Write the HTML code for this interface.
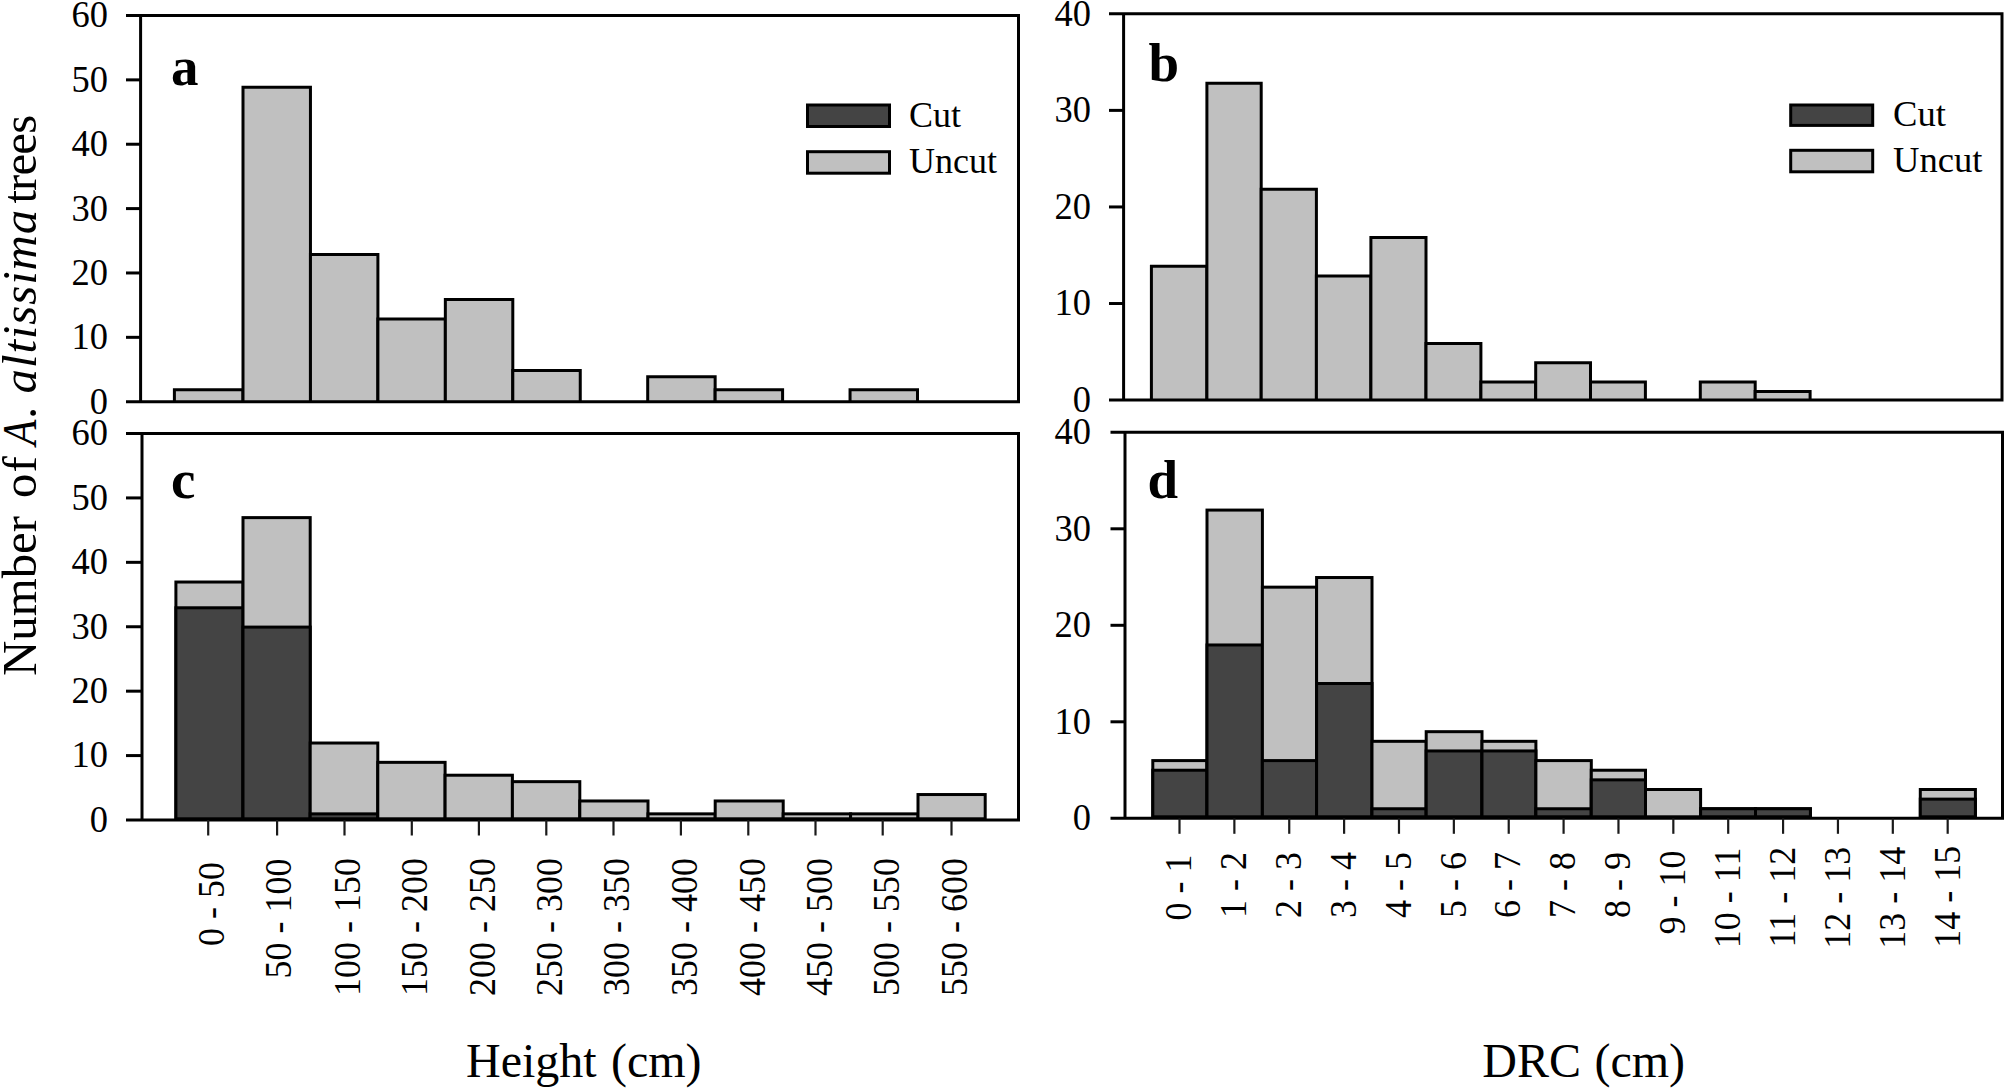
<!DOCTYPE html>
<html lang="en">
<head>
<meta charset="utf-8">
<title>Number of A. altissima trees by height and DRC class</title>
<style>
html,body{margin:0;padding:0;background:#fff;}
body{width:2006px;height:1092px;overflow:hidden;}
svg{display:block;}
svg text{font-family:"Liberation Serif",serif;fill:#000;}
</style>
</head>
<body>
<svg width="2006" height="1092" viewBox="0 0 2006 1092">
<rect x="0" y="0" width="2006" height="1092" fill="#ffffff"/>
<g id="panel-a">
<rect x="174.40" y="389.73" width="68.60" height="11.97" fill="#c0c0c0"/>
<path d="M174.40 401.70 V389.73 H243.00 V401.70" fill="none" stroke="#000" stroke-width="3" stroke-linejoin="miter"/>
<rect x="243.00" y="87.24" width="67.45" height="314.46" fill="#c0c0c0"/>
<path d="M243.00 401.70 V87.24 H310.45 V401.70" fill="none" stroke="#000" stroke-width="3" stroke-linejoin="miter"/>
<rect x="310.45" y="254.57" width="67.45" height="147.13" fill="#c0c0c0"/>
<path d="M310.45 401.70 V254.57 H377.90 V401.70" fill="none" stroke="#000" stroke-width="3" stroke-linejoin="miter"/>
<rect x="377.90" y="318.93" width="67.45" height="82.77" fill="#c0c0c0"/>
<path d="M377.90 401.70 V318.93 H445.35 V401.70" fill="none" stroke="#000" stroke-width="3" stroke-linejoin="miter"/>
<rect x="445.35" y="299.62" width="67.45" height="102.08" fill="#c0c0c0"/>
<path d="M445.35 401.70 V299.62 H512.80 V401.70" fill="none" stroke="#000" stroke-width="3" stroke-linejoin="miter"/>
<rect x="512.80" y="370.42" width="67.45" height="31.28" fill="#c0c0c0"/>
<path d="M512.80 401.70 V370.42 H580.25 V401.70" fill="none" stroke="#000" stroke-width="3" stroke-linejoin="miter"/>
<rect x="647.70" y="376.86" width="67.45" height="24.84" fill="#c0c0c0"/>
<path d="M647.70 401.70 V376.86 H715.15 V401.70" fill="none" stroke="#000" stroke-width="3" stroke-linejoin="miter"/>
<rect x="715.15" y="389.73" width="67.45" height="11.97" fill="#c0c0c0"/>
<path d="M715.15 401.70 V389.73 H782.60 V401.70" fill="none" stroke="#000" stroke-width="3" stroke-linejoin="miter"/>
<rect x="850.05" y="389.73" width="67.45" height="11.97" fill="#c0c0c0"/>
<path d="M850.05 401.70 V389.73 H917.50 V401.70" fill="none" stroke="#000" stroke-width="3" stroke-linejoin="miter"/>
<path d="M126.00 15.50 H1018.50 V401.70 H126.00" fill="none" stroke="#000" stroke-width="3" stroke-linejoin="miter"/>
<line x1="140.60" y1="15.50" x2="140.60" y2="401.70" stroke="#000" stroke-width="3" stroke-linecap="butt"/>
<text font-size="36.5" text-anchor="end" transform="translate(108.00 413.60) scale(1 1.035)">0</text>
<line x1="126.00" y1="337.33" x2="140.60" y2="337.33" stroke="#000" stroke-width="3" stroke-linecap="butt"/>
<text font-size="36.5" text-anchor="end" transform="translate(108.00 349.23) scale(1 1.035)">10</text>
<line x1="126.00" y1="272.97" x2="140.60" y2="272.97" stroke="#000" stroke-width="3" stroke-linecap="butt"/>
<text font-size="36.5" text-anchor="end" transform="translate(108.00 284.87) scale(1 1.035)">20</text>
<line x1="126.00" y1="208.60" x2="140.60" y2="208.60" stroke="#000" stroke-width="3" stroke-linecap="butt"/>
<text font-size="36.5" text-anchor="end" transform="translate(108.00 220.50) scale(1 1.035)">30</text>
<line x1="126.00" y1="144.23" x2="140.60" y2="144.23" stroke="#000" stroke-width="3" stroke-linecap="butt"/>
<text font-size="36.5" text-anchor="end" transform="translate(108.00 156.13) scale(1 1.035)">40</text>
<line x1="126.00" y1="79.87" x2="140.60" y2="79.87" stroke="#000" stroke-width="3" stroke-linecap="butt"/>
<text font-size="36.5" text-anchor="end" transform="translate(108.00 91.77) scale(1 1.035)">50</text>
<text font-size="36.5" text-anchor="end" transform="translate(108.00 27.40) scale(1 1.035)">60</text>
<text x="171.00" y="85.00" font-size="55" text-anchor="start" font-weight="bold">a</text>
</g>
<g id="panel-c">
<rect x="175.90" y="582.02" width="67.10" height="236.78" fill="#c0c0c0" stroke="#000" stroke-width="3" stroke-linejoin="miter"/>
<rect x="175.90" y="607.78" width="67.10" height="211.02" fill="#444444" stroke="#000" stroke-width="3" stroke-linejoin="miter"/>
<rect x="243.00" y="517.62" width="67.20" height="301.18" fill="#c0c0c0" stroke="#000" stroke-width="3" stroke-linejoin="miter"/>
<rect x="243.00" y="627.10" width="67.20" height="191.70" fill="#444444" stroke="#000" stroke-width="3" stroke-linejoin="miter"/>
<rect x="310.20" y="743.02" width="67.60" height="75.78" fill="#c0c0c0" stroke="#000" stroke-width="3" stroke-linejoin="miter"/>
<rect x="310.20" y="813.86" width="67.60" height="4.94" fill="#444444" stroke="#000" stroke-width="3" stroke-linejoin="miter"/>
<rect x="377.80" y="762.34" width="67.30" height="56.46" fill="#c0c0c0" stroke="#000" stroke-width="3" stroke-linejoin="miter"/>
<rect x="445.10" y="775.22" width="67.30" height="43.58" fill="#c0c0c0" stroke="#000" stroke-width="3" stroke-linejoin="miter"/>
<rect x="512.40" y="781.66" width="67.40" height="37.14" fill="#c0c0c0" stroke="#000" stroke-width="3" stroke-linejoin="miter"/>
<rect x="579.80" y="800.98" width="68.20" height="17.82" fill="#c0c0c0" stroke="#000" stroke-width="3" stroke-linejoin="miter"/>
<rect x="648.00" y="813.86" width="67.20" height="4.94" fill="#c0c0c0" stroke="#000" stroke-width="3" stroke-linejoin="miter"/>
<rect x="715.20" y="800.98" width="68.00" height="17.82" fill="#c0c0c0" stroke="#000" stroke-width="3" stroke-linejoin="miter"/>
<rect x="783.20" y="813.86" width="67.40" height="4.94" fill="#c0c0c0" stroke="#000" stroke-width="3" stroke-linejoin="miter"/>
<rect x="850.60" y="813.86" width="67.40" height="4.94" fill="#c0c0c0" stroke="#000" stroke-width="3" stroke-linejoin="miter"/>
<rect x="918.00" y="794.54" width="67.20" height="24.26" fill="#c0c0c0" stroke="#000" stroke-width="3" stroke-linejoin="miter"/>
<path d="M126.00 433.50 H1018.50 V820.00 H126.00" fill="none" stroke="#000" stroke-width="3" stroke-linejoin="miter"/>
<line x1="142.00" y1="433.50" x2="142.00" y2="820.00" stroke="#000" stroke-width="3" stroke-linecap="butt"/>
<text font-size="36.5" text-anchor="end" transform="translate(108.00 831.90) scale(1 1.035)">0</text>
<line x1="126.00" y1="755.58" x2="142.00" y2="755.58" stroke="#000" stroke-width="3" stroke-linecap="butt"/>
<text font-size="36.5" text-anchor="end" transform="translate(108.00 767.48) scale(1 1.035)">10</text>
<line x1="126.00" y1="691.17" x2="142.00" y2="691.17" stroke="#000" stroke-width="3" stroke-linecap="butt"/>
<text font-size="36.5" text-anchor="end" transform="translate(108.00 703.07) scale(1 1.035)">20</text>
<line x1="126.00" y1="626.75" x2="142.00" y2="626.75" stroke="#000" stroke-width="3" stroke-linecap="butt"/>
<text font-size="36.5" text-anchor="end" transform="translate(108.00 638.65) scale(1 1.035)">30</text>
<line x1="126.00" y1="562.33" x2="142.00" y2="562.33" stroke="#000" stroke-width="3" stroke-linecap="butt"/>
<text font-size="36.5" text-anchor="end" transform="translate(108.00 574.23) scale(1 1.035)">40</text>
<line x1="126.00" y1="497.92" x2="142.00" y2="497.92" stroke="#000" stroke-width="3" stroke-linecap="butt"/>
<text font-size="36.5" text-anchor="end" transform="translate(108.00 509.82) scale(1 1.035)">50</text>
<text font-size="36.5" text-anchor="end" transform="translate(108.00 445.40) scale(1 1.035)">60</text>
<text x="171.00" y="497.70" font-size="55" text-anchor="start" font-weight="bold">c</text>
<line x1="208.20" y1="820.00" x2="208.20" y2="835.50" stroke="#1a1a1a" stroke-width="2.2" stroke-linecap="butt"/>
<text font-size="36" text-anchor="end" transform="translate(223.90 862.00) rotate(-90) scale(1 1.04)">0 - 50</text>
<line x1="277.10" y1="820.00" x2="277.10" y2="835.50" stroke="#1a1a1a" stroke-width="2.2" stroke-linecap="butt"/>
<text font-size="36" text-anchor="end" transform="translate(290.90 858.50) rotate(-90) scale(1 1.04)">50 - 100</text>
<line x1="344.50" y1="820.00" x2="344.50" y2="835.50" stroke="#1a1a1a" stroke-width="2.2" stroke-linecap="butt"/>
<text font-size="36" text-anchor="end" transform="translate(359.70 858.00) rotate(-90) scale(1 1.04)">100 - 150</text>
<line x1="411.80" y1="820.00" x2="411.80" y2="835.50" stroke="#1a1a1a" stroke-width="2.2" stroke-linecap="butt"/>
<text font-size="36" text-anchor="end" transform="translate(427.00 858.00) rotate(-90) scale(1 1.04)">150 - 200</text>
<line x1="478.90" y1="820.00" x2="478.90" y2="835.50" stroke="#1a1a1a" stroke-width="2.2" stroke-linecap="butt"/>
<text font-size="36" text-anchor="end" transform="translate(494.50 858.00) rotate(-90) scale(1 1.04)">200 - 250</text>
<line x1="546.30" y1="820.00" x2="546.30" y2="835.50" stroke="#1a1a1a" stroke-width="2.2" stroke-linecap="butt"/>
<text font-size="36" text-anchor="end" transform="translate(562.00 858.00) rotate(-90) scale(1 1.04)">250 - 300</text>
<line x1="613.50" y1="820.00" x2="613.50" y2="835.50" stroke="#1a1a1a" stroke-width="2.2" stroke-linecap="butt"/>
<text font-size="36" text-anchor="end" transform="translate(628.60 858.00) rotate(-90) scale(1 1.04)">300 - 350</text>
<line x1="680.90" y1="820.00" x2="680.90" y2="835.50" stroke="#1a1a1a" stroke-width="2.2" stroke-linecap="butt"/>
<text font-size="36" text-anchor="end" transform="translate(697.10 858.00) rotate(-90) scale(1 1.04)">350 - 400</text>
<line x1="748.30" y1="820.00" x2="748.30" y2="835.50" stroke="#1a1a1a" stroke-width="2.2" stroke-linecap="butt"/>
<text font-size="36" text-anchor="end" transform="translate(764.90 858.00) rotate(-90) scale(1 1.04)">400 - 450</text>
<line x1="815.50" y1="820.00" x2="815.50" y2="835.50" stroke="#1a1a1a" stroke-width="2.2" stroke-linecap="butt"/>
<text font-size="36" text-anchor="end" transform="translate(832.20 858.00) rotate(-90) scale(1 1.04)">450 - 500</text>
<line x1="882.70" y1="820.00" x2="882.70" y2="835.50" stroke="#1a1a1a" stroke-width="2.2" stroke-linecap="butt"/>
<text font-size="36" text-anchor="end" transform="translate(899.00 858.00) rotate(-90) scale(1 1.04)">500 - 550</text>
<line x1="951.50" y1="820.00" x2="951.50" y2="835.50" stroke="#1a1a1a" stroke-width="2.2" stroke-linecap="butt"/>
<text font-size="36" text-anchor="end" transform="translate(966.80 858.00) rotate(-90) scale(1 1.04)">550 - 600</text>
</g>
<g id="panel-b">
<rect x="1151.40" y="266.31" width="55.50" height="133.79" fill="#c0c0c0"/>
<path d="M1151.40 400.10 V266.31 H1206.90 V400.10" fill="none" stroke="#000" stroke-width="3" stroke-linejoin="miter"/>
<rect x="1206.90" y="83.25" width="54.30" height="316.86" fill="#c0c0c0"/>
<path d="M1206.90 400.10 V83.25 H1261.20 V400.10" fill="none" stroke="#000" stroke-width="3" stroke-linejoin="miter"/>
<rect x="1261.20" y="189.23" width="55.20" height="210.87" fill="#c0c0c0"/>
<path d="M1261.20 400.10 V189.23 H1316.40 V400.10" fill="none" stroke="#000" stroke-width="3" stroke-linejoin="miter"/>
<rect x="1316.40" y="275.94" width="54.50" height="124.16" fill="#c0c0c0"/>
<path d="M1316.40 400.10 V275.94 H1370.90 V400.10" fill="none" stroke="#000" stroke-width="3" stroke-linejoin="miter"/>
<rect x="1370.90" y="237.41" width="55.10" height="162.70" fill="#c0c0c0"/>
<path d="M1370.90 400.10 V237.41 H1426.00 V400.10" fill="none" stroke="#000" stroke-width="3" stroke-linejoin="miter"/>
<rect x="1426.00" y="343.39" width="54.90" height="56.71" fill="#c0c0c0"/>
<path d="M1426.00 400.10 V343.39 H1480.90 V400.10" fill="none" stroke="#000" stroke-width="3" stroke-linejoin="miter"/>
<rect x="1480.90" y="381.93" width="54.80" height="18.17" fill="#c0c0c0"/>
<path d="M1480.90 400.10 V381.93 H1535.70 V400.10" fill="none" stroke="#000" stroke-width="3" stroke-linejoin="miter"/>
<rect x="1535.70" y="362.66" width="54.80" height="37.44" fill="#c0c0c0"/>
<path d="M1535.70 400.10 V362.66 H1590.50 V400.10" fill="none" stroke="#000" stroke-width="3" stroke-linejoin="miter"/>
<rect x="1590.50" y="381.93" width="54.90" height="18.17" fill="#c0c0c0"/>
<path d="M1590.50 400.10 V381.93 H1645.40 V400.10" fill="none" stroke="#000" stroke-width="3" stroke-linejoin="miter"/>
<rect x="1700.30" y="381.93" width="54.90" height="18.17" fill="#c0c0c0"/>
<path d="M1700.30 400.10 V381.93 H1755.20 V400.10" fill="none" stroke="#000" stroke-width="3" stroke-linejoin="miter"/>
<rect x="1755.20" y="391.56" width="54.90" height="8.54" fill="#c0c0c0"/>
<path d="M1755.20 400.10 V391.56 H1810.10 V400.10" fill="none" stroke="#000" stroke-width="3" stroke-linejoin="miter"/>
<path d="M1109.00 13.80 H2002.00 V400.10 H1109.00" fill="none" stroke="#000" stroke-width="3" stroke-linejoin="miter"/>
<line x1="1123.60" y1="13.80" x2="1123.60" y2="400.10" stroke="#000" stroke-width="3" stroke-linecap="butt"/>
<text font-size="36.5" text-anchor="end" transform="translate(1091.00 412.00) scale(1 1.035)">0</text>
<line x1="1109.00" y1="303.53" x2="1123.60" y2="303.53" stroke="#000" stroke-width="3" stroke-linecap="butt"/>
<text font-size="36.5" text-anchor="end" transform="translate(1091.00 315.43) scale(1 1.035)">10</text>
<line x1="1109.00" y1="206.95" x2="1123.60" y2="206.95" stroke="#000" stroke-width="3" stroke-linecap="butt"/>
<text font-size="36.5" text-anchor="end" transform="translate(1091.00 218.85) scale(1 1.035)">20</text>
<line x1="1109.00" y1="110.38" x2="1123.60" y2="110.38" stroke="#000" stroke-width="3" stroke-linecap="butt"/>
<text font-size="36.5" text-anchor="end" transform="translate(1091.00 122.28) scale(1 1.035)">30</text>
<text font-size="36.5" text-anchor="end" transform="translate(1091.00 25.70) scale(1 1.035)">40</text>
<text x="1148.50" y="81.10" font-size="55" text-anchor="start" font-weight="bold">b</text>
</g>
<g id="panel-d">
<rect x="1152.80" y="760.59" width="54.20" height="56.21" fill="#c0c0c0" stroke="#000" stroke-width="3" stroke-linejoin="miter"/>
<rect x="1152.80" y="770.23" width="54.20" height="46.57" fill="#444444" stroke="#000" stroke-width="3" stroke-linejoin="miter"/>
<rect x="1207.00" y="510.08" width="55.40" height="306.72" fill="#c0c0c0" stroke="#000" stroke-width="3" stroke-linejoin="miter"/>
<rect x="1207.00" y="644.97" width="55.40" height="171.83" fill="#444444" stroke="#000" stroke-width="3" stroke-linejoin="miter"/>
<rect x="1262.40" y="587.16" width="54.20" height="229.64" fill="#c0c0c0" stroke="#000" stroke-width="3" stroke-linejoin="miter"/>
<rect x="1262.40" y="760.59" width="54.20" height="56.21" fill="#444444" stroke="#000" stroke-width="3" stroke-linejoin="miter"/>
<rect x="1316.60" y="577.52" width="55.40" height="239.27" fill="#c0c0c0" stroke="#000" stroke-width="3" stroke-linejoin="miter"/>
<rect x="1316.60" y="683.51" width="55.40" height="133.29" fill="#444444" stroke="#000" stroke-width="3" stroke-linejoin="miter"/>
<rect x="1372.00" y="741.32" width="54.20" height="75.48" fill="#c0c0c0" stroke="#000" stroke-width="3" stroke-linejoin="miter"/>
<rect x="1372.00" y="808.76" width="54.20" height="8.03" fill="#444444" stroke="#000" stroke-width="3" stroke-linejoin="miter"/>
<rect x="1426.20" y="731.68" width="55.80" height="85.12" fill="#c0c0c0" stroke="#000" stroke-width="3" stroke-linejoin="miter"/>
<rect x="1426.20" y="750.95" width="55.80" height="65.85" fill="#444444" stroke="#000" stroke-width="3" stroke-linejoin="miter"/>
<rect x="1482.00" y="741.32" width="53.90" height="75.48" fill="#c0c0c0" stroke="#000" stroke-width="3" stroke-linejoin="miter"/>
<rect x="1482.00" y="750.95" width="53.90" height="65.85" fill="#444444" stroke="#000" stroke-width="3" stroke-linejoin="miter"/>
<rect x="1535.90" y="760.59" width="55.40" height="56.21" fill="#c0c0c0" stroke="#000" stroke-width="3" stroke-linejoin="miter"/>
<rect x="1535.90" y="808.76" width="55.40" height="8.03" fill="#444444" stroke="#000" stroke-width="3" stroke-linejoin="miter"/>
<rect x="1591.30" y="770.23" width="54.20" height="46.57" fill="#c0c0c0" stroke="#000" stroke-width="3" stroke-linejoin="miter"/>
<rect x="1591.30" y="779.86" width="54.20" height="36.94" fill="#444444" stroke="#000" stroke-width="3" stroke-linejoin="miter"/>
<rect x="1645.50" y="789.50" width="55.10" height="27.30" fill="#c0c0c0" stroke="#000" stroke-width="3" stroke-linejoin="miter"/>
<rect x="1700.60" y="808.76" width="54.90" height="8.03" fill="#c0c0c0" stroke="#000" stroke-width="3" stroke-linejoin="miter"/>
<rect x="1700.60" y="808.76" width="54.90" height="8.03" fill="#444444" stroke="#000" stroke-width="3" stroke-linejoin="miter"/>
<rect x="1755.50" y="808.76" width="54.90" height="8.03" fill="#c0c0c0" stroke="#000" stroke-width="3" stroke-linejoin="miter"/>
<rect x="1755.50" y="808.76" width="54.90" height="8.03" fill="#444444" stroke="#000" stroke-width="3" stroke-linejoin="miter"/>
<rect x="1920.30" y="789.50" width="55.10" height="27.30" fill="#c0c0c0" stroke="#000" stroke-width="3" stroke-linejoin="miter"/>
<rect x="1920.30" y="799.13" width="55.10" height="17.67" fill="#444444" stroke="#000" stroke-width="3" stroke-linejoin="miter"/>
<path d="M1110.50 432.30 H2002.50 V818.30 H1110.50" fill="none" stroke="#000" stroke-width="3" stroke-linejoin="miter"/>
<line x1="1125.00" y1="432.30" x2="1125.00" y2="818.30" stroke="#000" stroke-width="3" stroke-linecap="butt"/>
<text font-size="36.5" text-anchor="end" transform="translate(1091.00 830.20) scale(1 1.035)">0</text>
<line x1="1110.50" y1="721.80" x2="1125.00" y2="721.80" stroke="#000" stroke-width="3" stroke-linecap="butt"/>
<text font-size="36.5" text-anchor="end" transform="translate(1091.00 733.70) scale(1 1.035)">10</text>
<line x1="1110.50" y1="625.30" x2="1125.00" y2="625.30" stroke="#000" stroke-width="3" stroke-linecap="butt"/>
<text font-size="36.5" text-anchor="end" transform="translate(1091.00 637.20) scale(1 1.035)">20</text>
<line x1="1110.50" y1="528.80" x2="1125.00" y2="528.80" stroke="#000" stroke-width="3" stroke-linecap="butt"/>
<text font-size="36.5" text-anchor="end" transform="translate(1091.00 540.70) scale(1 1.035)">30</text>
<text font-size="36.5" text-anchor="end" transform="translate(1091.00 444.20) scale(1 1.035)">40</text>
<text x="1147.60" y="498.00" font-size="55" text-anchor="start" font-weight="bold">d</text>
<line x1="1179.50" y1="818.30" x2="1179.50" y2="833.80" stroke="#1a1a1a" stroke-width="2.2" stroke-linecap="butt"/>
<text font-size="36" text-anchor="end" transform="translate(1190.90 854.50) rotate(-90) scale(1 1.04)">0 - 1</text>
<line x1="1234.37" y1="818.30" x2="1234.37" y2="833.80" stroke="#1a1a1a" stroke-width="2.2" stroke-linecap="butt"/>
<text font-size="36" text-anchor="end" transform="translate(1245.82 852.00) rotate(-90) scale(1 1.04)">1 - 2</text>
<line x1="1289.24" y1="818.30" x2="1289.24" y2="833.80" stroke="#1a1a1a" stroke-width="2.2" stroke-linecap="butt"/>
<text font-size="36" text-anchor="end" transform="translate(1300.74 852.00) rotate(-90) scale(1 1.04)">2 - 3</text>
<line x1="1344.11" y1="818.30" x2="1344.11" y2="833.80" stroke="#1a1a1a" stroke-width="2.2" stroke-linecap="butt"/>
<text font-size="36" text-anchor="end" transform="translate(1355.66 852.00) rotate(-90) scale(1 1.04)">3 - 4</text>
<line x1="1398.98" y1="818.30" x2="1398.98" y2="833.80" stroke="#1a1a1a" stroke-width="2.2" stroke-linecap="butt"/>
<text font-size="36" text-anchor="end" transform="translate(1410.58 852.00) rotate(-90) scale(1 1.04)">4 - 5</text>
<line x1="1453.85" y1="818.30" x2="1453.85" y2="833.80" stroke="#1a1a1a" stroke-width="2.2" stroke-linecap="butt"/>
<text font-size="36" text-anchor="end" transform="translate(1465.50 852.00) rotate(-90) scale(1 1.04)">5 - 6</text>
<line x1="1508.72" y1="818.30" x2="1508.72" y2="833.80" stroke="#1a1a1a" stroke-width="2.2" stroke-linecap="butt"/>
<text font-size="36" text-anchor="end" transform="translate(1520.42 852.00) rotate(-90) scale(1 1.04)">6 - 7</text>
<line x1="1563.59" y1="818.30" x2="1563.59" y2="833.80" stroke="#1a1a1a" stroke-width="2.2" stroke-linecap="butt"/>
<text font-size="36" text-anchor="end" transform="translate(1575.34 852.00) rotate(-90) scale(1 1.04)">7 - 8</text>
<line x1="1618.46" y1="818.30" x2="1618.46" y2="833.80" stroke="#1a1a1a" stroke-width="2.2" stroke-linecap="butt"/>
<text font-size="36" text-anchor="end" transform="translate(1630.26 852.00) rotate(-90) scale(1 1.04)">8 - 9</text>
<line x1="1673.33" y1="818.30" x2="1673.33" y2="833.80" stroke="#1a1a1a" stroke-width="2.2" stroke-linecap="butt"/>
<text font-size="36" text-anchor="end" transform="translate(1685.18 850.50) rotate(-90) scale(1 1.04)">9 - 10</text>
<line x1="1728.20" y1="818.30" x2="1728.20" y2="833.80" stroke="#1a1a1a" stroke-width="2.2" stroke-linecap="butt"/>
<text font-size="36" text-anchor="end" transform="translate(1740.10 847.50) rotate(-90) scale(1 1.04)">10 - 11</text>
<line x1="1783.07" y1="818.30" x2="1783.07" y2="833.80" stroke="#1a1a1a" stroke-width="2.2" stroke-linecap="butt"/>
<text font-size="36" text-anchor="end" transform="translate(1795.02 846.80) rotate(-90) scale(1 1.04)">11 - 12</text>
<line x1="1837.94" y1="818.30" x2="1837.94" y2="833.80" stroke="#1a1a1a" stroke-width="2.2" stroke-linecap="butt"/>
<text font-size="36" text-anchor="end" transform="translate(1849.94 846.80) rotate(-90) scale(1 1.04)">12 - 13</text>
<line x1="1892.81" y1="818.30" x2="1892.81" y2="833.80" stroke="#1a1a1a" stroke-width="2.2" stroke-linecap="butt"/>
<text font-size="36" text-anchor="end" transform="translate(1904.86 846.80) rotate(-90) scale(1 1.04)">13 - 14</text>
<line x1="1947.68" y1="818.30" x2="1947.68" y2="833.80" stroke="#1a1a1a" stroke-width="2.2" stroke-linecap="butt"/>
<text font-size="36" text-anchor="end" transform="translate(1959.78 845.80) rotate(-90) scale(1 1.04)">14 - 15</text>
</g>
<rect x="807.50" y="105.00" width="82.00" height="21.50" fill="#444444" stroke="#000" stroke-width="3" stroke-linejoin="miter"/>
<text x="909.00" y="127.30" font-size="36" text-anchor="start">Cut</text>
<rect x="807.50" y="151.70" width="82.00" height="21.50" fill="#c0c0c0" stroke="#000" stroke-width="3" stroke-linejoin="miter"/>
<text x="909.00" y="173.30" font-size="36" text-anchor="start">Uncut</text>
<rect x="1790.70" y="105.00" width="82.00" height="20.40" fill="#444444" stroke="#000" stroke-width="3" stroke-linejoin="miter"/>
<text x="1893.00" y="126.00" font-size="36.6" text-anchor="start">Cut</text>
<rect x="1790.70" y="150.30" width="82.00" height="21.50" fill="#c0c0c0" stroke="#000" stroke-width="3" stroke-linejoin="miter"/>
<text x="1893.00" y="171.50" font-size="36.6" text-anchor="start">Uncut</text>
<text x="466.00" y="1077.00" font-size="48" text-anchor="start" word-spacing="2.3">Height (cm)</text>
<text x="1482.30" y="1077.40" font-size="48" text-anchor="start" word-spacing="1.5">DRC (cm)</text>
<text font-size="48.85" text-anchor="start" transform="translate(36 676) rotate(-90)"><tspan x="0.00">Number</tspan> <tspan x="178.00" letter-spacing="1.2">of</tspan> <tspan x="230.40" font-style="italic" textLength="25.97" lengthAdjust="spacingAndGlyphs">A</tspan><tspan x="257.00">.</tspan> <tspan x="282.60" font-style="italic" letter-spacing="0.9">altissima</tspan> <tspan x="472.40" letter-spacing="-0.85">trees</tspan></text>
</svg>
</body>
</html>
